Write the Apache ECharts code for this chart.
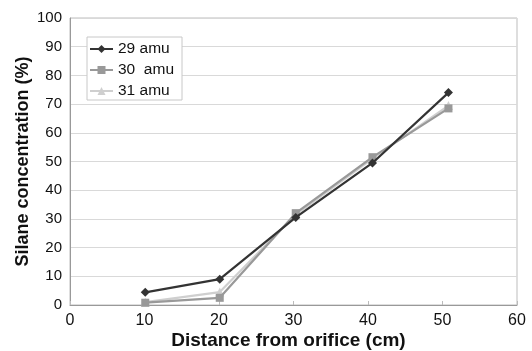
<!DOCTYPE html>
<html>
<head>
<meta charset="utf-8">
<script src="https://cdn.jsdelivr.net/npm/echarts@6/dist/echarts.min.js"></script>
<style>html,body{margin:0;padding:0;background:#fff}#c{width:532px;height:351px}</style>
</head>
<body>
<div id="c"></div>
<script>
const seriesNames = ['29 amu', '30  amu', '31 amu'];
const xValues = [10.1, 20.1, 30.3, 40.6, 50.8];
const amu29 = [4.4, 9.0, 30.5, 49.5, 74.0];
const amu30 = [0.8, 2.5, 32.0, 51.5, 68.5];
const amu31 = [1.0, 4.5, 31.5, 51.0, 69.5];
const yTicks = [0, 10, 20, 30, 40, 50, 60, 70, 80, 90, 100];
const xTicks = [0, 10, 20, 30, 40, 50, 60];

const pair = (ys) => xValues.map((x, i) => [x, ys[i]]);
const FONT = 'Liberation Sans, Arial, Helvetica';
const chart = echarts.init(document.getElementById('c'), null, {renderer: 'canvas'});
chart.setOption({
  animation: false,
  backgroundColor: '#fff',
  grid: {left: 70, right: 15, top: 18, bottom: 46, show: true, borderColor: '#bdbdbd', borderWidth: 1,
         containLabel: false, outerBoundsMode: 'none'},
  legend: {
    orient: 'vertical', left: 87, top: 37, itemWidth: 23, itemHeight: 10, itemGap: 5,
    backgroundColor: '#fff', borderColor: '#c8c8c8', borderWidth: 1, padding: [4, 8, 1, 2],
    textStyle: {fontFamily: FONT, fontSize: 15.5, color: '#111'},
    data: seriesNames
  },
  xAxis: {
    type: 'value', min: xTicks[0], max: xTicks[xTicks.length - 1], interval: 10,
    name: 'Distance from orifice (cm)', nameLocation: 'middle', nameGap: 26, nameMoveOverlap: false,
    nameTextStyle: {fontFamily: FONT, fontWeight: 'bold', fontSize: 19, color: '#111', padding: [0, 10, 0, 0]},
    axisLine: {lineStyle: {color: '#999'}},
    axisTick: {show: true, inside: true, length: 4, lineStyle: {color: '#bbb'}},
    axisLabel: {fontFamily: FONT, fontSize: 16, color: '#111', margin: 8},
    splitLine: {show: false}
  },
  yAxis: {
    type: 'value', min: yTicks[0], max: yTicks[yTicks.length - 1], interval: 10,
    name: 'Silane concentration (%)', nameLocation: 'middle', nameGap: 38, nameMoveOverlap: false,
    nameTextStyle: {fontFamily: FONT, fontWeight: 'bold', fontSize: 18, color: '#111'},
    axisLine: {show: true, lineStyle: {color: '#999'}},
    axisTick: {show: false},
    axisLabel: {fontFamily: FONT, fontSize: 15, color: '#111', margin: 8},
    splitLine: {lineStyle: {color: '#d9d9d9'}}
  },
  series: [
    {name: seriesNames[0], type: 'line', data: pair(amu29), symbol: 'diamond', symbolSize: 9,
     lineStyle: {color: '#333', width: 2.2}, itemStyle: {color: '#333'}, z: 3},
    {name: seriesNames[1], type: 'line', data: pair(amu30), symbol: 'rect', symbolSize: 8,
     lineStyle: {color: '#999', width: 2.2}, itemStyle: {color: '#999'}, z: 2},
    {name: seriesNames[2], type: 'line', data: pair(amu31), symbol: 'triangle', symbolSize: 9,
     lineStyle: {color: '#cfcfcf', width: 2.2}, itemStyle: {color: '#cfcfcf'}, z: 1}
  ]
});
</script>
</body>
</html>
